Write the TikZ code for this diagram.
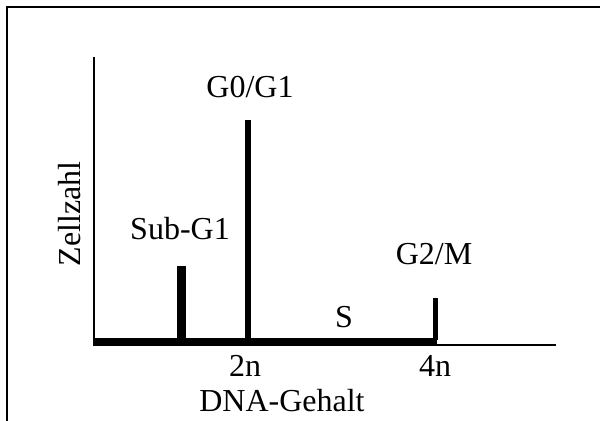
\documentclass[tikz,border=0pt]{standalone}
\usepackage{fontspec}
\setmainfont{Liberation Serif}
\begin{document}
\begin{tikzpicture}[x=0.5pt,y=-0.5pt,
  lbl/.style={inner sep=0pt,anchor=base,font=\fontsize{16}{19}\selectfont},
  frame/.style={line width=1pt,black},
  axisline/.style={line width=1pt,black},
  bar/.style={fill=black,draw=none}]
\useasboundingbox (0,0) rectangle (600,421);
% frame (left and top edges)
\draw[frame] (7,421) -- (7,7) -- (600,7);
% y axis
\draw[axisline] (94,57) -- (94,346);
% thin x axis continuation
\draw[line width=0.8pt] (437,345) -- (556,345);
% thick baseline
\fill[bar] (93,338) rectangle (437,346.5);
% bars
\fill[bar] (177,266) rectangle (186,340);
\fill[bar] (245,120) rectangle (251,340);
\fill[bar] (433,298) rectangle (437.5,340);
% labels
\node[lbl] (g0) at (250,98) {G0/G1};
\node[lbl] (sub) at (180,240) {Sub-G1};
\node[lbl] (g2) at (434,265) {G2/M};
\node[lbl] (s) at (344,328) {S};
\node[lbl] (n2) at (245,377) {2n};
\node[lbl] (n4) at (435,377) {4n};
\node[lbl] (dna) at (282,412) {DNA-Gehalt};
\node[lbl,rotate=90] (zz) at (80,214) {Zellzahl};
\end{tikzpicture}
\end{document}
